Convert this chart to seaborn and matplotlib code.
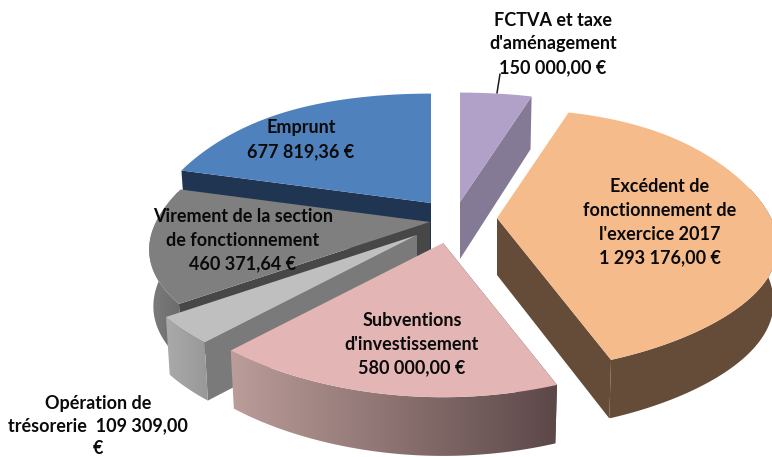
import numpy as np
import matplotlib
matplotlib.use("Agg")
import matplotlib.pyplot as plt
import seaborn as sns
from matplotlib.colors import LinearSegmentedColormap
from matplotlib.patches import Polygon

sns.set_theme(style="white")
plt.rcParams['font.family'] = ['Lato', 'DejaVu Sans']

# --- data -------------------------------------------------------------
names = ["FCTVA et taxe\nd'aménagement", "Excédent de\nfonctionnement de\nl'exercice 2017",
         "Subventions\nd'investissement", "Opération de\ntrésorerie  ", "Virement de la section\nde fonctionnement",
         "Emprunt"]
values = [150000.00, 1293176.00, 580000.00, 109309.00, 460371.64, 677819.36]
value_labels = ["150 000,00 €", "1 293 176,00 €", "580 000,00 €", "109 309,00\n€", "460 371,64 €", "677 819,36 €"]

# --- styling ----------------------------------------------------------
top_colors = sns.color_palette(["#b1a0c7", "#f6bb8b", "#e3b5b4", "#bfbfbf", "#7f7f7f", "#4f81bd"])
cut_colors = ["#857a96", "#654c39", "#5d4848", "#7a7a7a", "#474747", "#1f3552"]
wall_left = ["#857a96", "#654c39", "#bb9d9a", "#aaaaaa", "#7d7d7d", "#1f3552"]
wall_right = ["#857a96", "#654c39", "#5c4748", "#989898", "#6a6a6a", "#1f3552"]
apex = [(460, 202), (497, 218), (443, 243), (417, 235), (430, 222), (431, 203)]
visible_cut = [1, 1, 0, 0, 0, 0]   # 1: face at end angle, 0: face at start angle
label_xy = [(553, 44), (660, 222), (412, 344), (98, 426), (243, 240), (301, 140)]
label_spacing = [1.5, 1.5, 1.5, 1.38, 1.5, 1.5]
WIDTH_FIT = np.polyfit([-0.93, -0.73, 0.0, 0.96], [316, 313, 274, 252], 3)
B, KB = 128.0, 0.17
TEXT = "#0a0a0a"


def project(center, theta, lower=False):
    """Map angle (clockwise from top) on a slice to screen position."""
    s, c = np.sin(theta), np.cos(theta)
    x = np.polyval(WIDTH_FIT, c) * s
    y = -B * c / (1.0 + KB * c)
    if lower:
        return center[0] + 0.985 * x, center[1] + 0.985 * y + 56 - 5 * c
    return center[0] + x, center[1] + y


fig = plt.figure(figsize=(7.72, 4.57), dpi=100)
ax = fig.add_axes([0, 0, 1, 1])
ax.set_axis_off()

fractions = np.array(values) / np.sum(values)
edges = np.concatenate([[0], np.cumsum(fractions)]) * 2 * np.pi

order = [5, 0, 4, 1, 3, 2]   # painter order, back to front
for z, i in enumerate(order):
    t0, t1 = edges[i], edges[i + 1]
    thetas = np.linspace(t0, t1, 120)
    ctr = apex[i]
    base_z = 2 + z

    # radial cut face
    t_cut = t1 if visible_cut[i] else t0
    top_end = project(ctr, t_cut)
    low_end = project(ctr, t_cut, True)
    ax.fill([ctr[0], top_end[0], low_end[0], ctr[0]], [ctr[1], top_end[1], low_end[1], ctr[1] + 57],
            color=cut_colors[i], lw=0, zorder=base_z)

    # outer wall (front-facing part of the arc only), horizontal gradient
    front = thetas[np.cos(thetas) < 0.25]
    if len(front) > 1:
        up = np.array([project(ctr, t) for t in front])
        low = np.array([project(ctr, t, True) for t in front])
        outline = np.vstack([up, low[::-1]])
        cmap = LinearSegmentedColormap.from_list("wall", [wall_left[i], wall_right[i]])
        x0, x1 = outline[:, 0].min(), outline[:, 0].max()
        y0, y1 = outline[:, 1].min(), outline[:, 1].max()
        im = ax.imshow(np.linspace(0, 1, 256)[None, :], cmap=cmap, extent=(x0, x1, y1, y0),
                       aspect="auto", zorder=base_z + 0.1, interpolation="bilinear")
        clip = Polygon(outline, closed=True, transform=ax.transData)
        im.set_clip_path(clip)

    # top face
    xy = np.array([project(ctr, t) for t in thetas])
    ax.fill(np.r_[ctr[0], xy[:, 0]], np.r_[ctr[1], xy[:, 1]], color=top_colors[i], lw=0, zorder=base_z + 0.2)

# labels
for i, (name, val, pos) in enumerate(zip(names, value_labels, label_xy)):
    sep = "" if i == 3 else "\n"
    ax.text(pos[0], pos[1], name + sep + val, ha="center", va="center", fontsize=13,
            fontweight="bold", color=TEXT, linespacing=label_spacing[i], zorder=20)

# leader line of the FCTVA label
ax.plot([500, 497], [74, 93], color="#1a1a1a", lw=1.1, zorder=20)

ax.set_xlim(0, 772)
ax.set_ylim(457, 0)
sns.despine(ax=ax, left=True, bottom=True)
fig.savefig("out.png", dpi=100, facecolor="white")
